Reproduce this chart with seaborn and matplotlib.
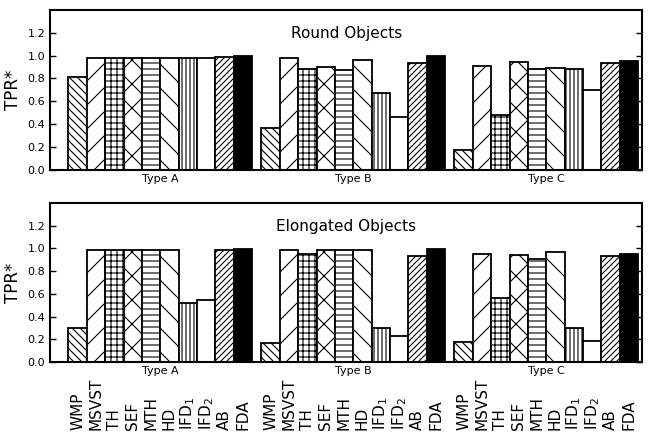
import pandas as pd
import seaborn as sns
import matplotlib
matplotlib.use("Agg")
import matplotlib.pyplot as plt
import matplotlib.transforms as mtrans

# nomes dos métodos e tipos
metodos = ["WMP", "MSVST", "TH", "SEF", "MTH", "HD", "IFD$_1$", "IFD$_2$", "AB", "FDA"]
tipos = ["Type A", "Type B", "Type C"]
hachuras = ["\\\\\\", "/", "++", "x", "--", "\\", "|||", "", "////", ""]
cores = ["white"] * 9 + ["black"]

# TPR* dos objetos redondos
round_a = [0.81, 0.98, 0.98, 0.98, 0.98, 0.98, 0.975, 0.98, 0.99, 0.995]
round_b = [0.37, 0.98, 0.88, 0.90, 0.87, 0.96, 0.67, 0.46, 0.935, 0.995]
round_c = [0.17, 0.91, 0.48, 0.945, 0.88, 0.895, 0.885, 0.70, 0.935, 0.955]

# TPR* dos objetos alongados
along_a = [0.30, 0.985, 0.985, 0.985, 0.985, 0.985, 0.52, 0.545, 0.99, 0.995]
along_b = [0.17, 0.985, 0.955, 0.985, 0.985, 0.985, 0.30, 0.225, 0.935, 0.995]
along_c = [0.175, 0.955, 0.56, 0.945, 0.905, 0.965, 0.30, 0.185, 0.935, 0.955]


def monta_df(valores):
    linhas = []
    for tipo, vals in zip(tipos, valores):
        for metodo, v in zip(metodos, vals):
            linhas.append({"Tipo": tipo, "Método": metodo, "TPR": v})
    return pd.DataFrame(linhas)


# figura em 72 dpi (1 pt = 1 px), para o espaçamento das hachuras
DPI = 72
f = 100 / DPI

sns.set_style("ticks")
plt.rcParams["font.family"] = ["DejaVu Sans"]
plt.rcParams["hatch.linewidth"] = 0.8 * f
for k in ["text.color", "axes.labelcolor", "xtick.color", "ytick.color", "axes.edgecolor"]:
    plt.rcParams[k] = "black"

fig = plt.figure(figsize=(650 / DPI, 432 / DPI), dpi=DPI)
ax_top = fig.add_axes([0.077, 0.607, 0.911, 0.370])
ax_bot = fig.add_axes([0.077, 0.162, 0.911, 0.368])

paineis = [
    (ax_top, [round_a, round_b, round_c], "Round Objects"),
    (ax_bot, [along_a, along_b, along_c], "Elongated Objects"),
]

for ax, valores, titulo in paineis:
    df = monta_df(valores)
    sns.barplot(data=df, x="Tipo", y="TPR", hue="Método", hue_order=metodos,
                palette=dict(zip(metodos, cores)), saturation=1, width=0.952,
                edgecolor="black", linewidth=1.3 * f, errorbar=None, legend=False, ax=ax)
    # aplicando hachuras por método
    for cont, h in zip(ax.containers, hachuras):
        for barra in cont:
            barra.set_hatch(h)
    ax.set_ylim(0, 1.4)
    ax.set_yticks([0.0, 0.2, 0.4, 0.6, 0.8, 1.0, 1.2])
    ax.set_xlim(-0.571, 2.497)
    ax.set_ylabel("TPR*", fontsize=12 * f, labelpad=4 * f)
    ax.set_xlabel("")
    ax.tick_params(axis="y", direction="in", right=True, labelsize=8 * f,
                   length=4 * f, width=1 * f, pad=3.5 * f)
    ax.tick_params(axis="x", which="major", length=0, labelsize=8 * f, pad=3 * f)
    for s in ax.spines.values():
        s.set_linewidth(1.5 * f)
    ax.text(0.5, 0.85, titulo, transform=ax.transAxes, ha="center", va="center", fontsize=11 * f)

# rótulos dos métodos abaixo do painel inferior
trans = mtrans.blended_transform_factory(ax_bot.transData, fig.transFigure)
for cont, metodo in zip(ax_bot.containers, metodos):
    for barra in cont:
        xc = barra.get_x() + barra.get_width() / 2
        ax_bot.text(xc, 0.004, metodo, transform=trans, rotation=90,
                    ha="center", va="bottom", fontsize=11 * f)

fig.savefig("out.png", dpi=DPI)
